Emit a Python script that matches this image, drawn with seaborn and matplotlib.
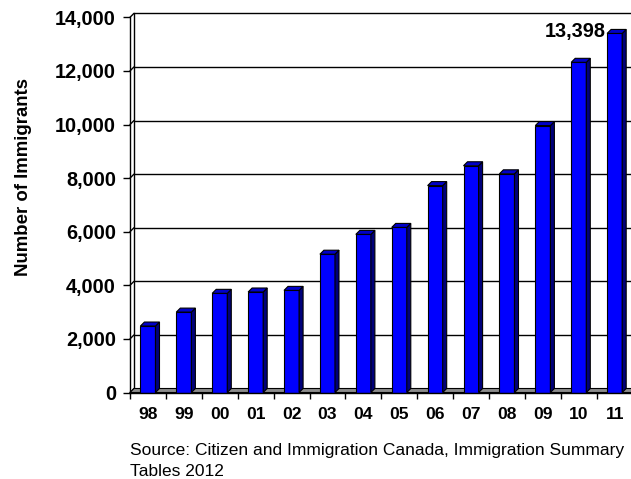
import numpy as np
import pandas as pd
import matplotlib
matplotlib.use("Agg")
import matplotlib.pyplot as plt
import seaborn as sns
from matplotlib.patches import Polygon
from matplotlib.lines import Line2D

# Immigrants per year
years = ["98", "99", "00", "01", "02", "03", "04", "05", "06", "07", "08", "09", "10", "11"]
immigrants = [2480, 3000, 3700, 3750, 3810, 5160, 5900, 6160, 7720, 8460, 8160, 9960, 12320, 13398]
y_ticks = [0, 2000, 4000, 6000, 8000, 10000, 12000, 14000]
y_tick_labels = ["0", "2,000", "4,000", "6,000", "8,000", "10,000", "12,000", "14,000"]
y_title = "Number of Immigrants"
source_lines = ["Source: Citizen and Immigration Canada, Immigration Summary", "Tables 2012"]

sns.set_theme(style="white")
plt.rcParams["font.family"] = ["Liberation Sans", "DejaVu Sans"]

W, H = 631, 479
fig = plt.figure(figsize=(W / 100, H / 100), dpi=100)
fig.patch.set_facecolor("white")
ax = fig.add_axes([130 / W, (H - 392.5) / H, 502.6 / W, 375.2 / H])
ax.set_facecolor("none")

df = pd.DataFrame({"year": years, "immigrants": immigrants})
sns.barplot(data=df, x="year", y="immigrants", color="#0000FF", saturation=1,
            width=0.42, edgecolor="black", linewidth=0.8, ax=ax, zorder=4)

n = len(years)
ax.set_xlim(-0.5, n - 0.5)
ax.set_ylim(0, y_ticks[-1])

# depth of the pseudo-3D effect: 4 px right and 4 px up, in data units
p0 = ax.transData.transform((0, 0))
p1 = ax.transData.transform((1, 1000))
dx = 4.0 / (p1[0] - p0[0])
dy = 4.0 * 1000 / (p1[1] - p0[1])

x_left, x_right = -0.5, n - 0.5

# back wall gridlines and wall edge
for t in y_ticks:
    ax.add_line(Line2D([x_left + dx, x_right + dx], [t + dy, t + dy], color="black",
                       lw=1.0, zorder=1, clip_on=False))
    ax.add_line(Line2D([x_left, x_left + dx], [t, t + dy], color="black",
                       lw=1.0, zorder=1, clip_on=False))
ax.add_line(Line2D([x_left + dx, x_left + dx], [dy, y_ticks[-1] + dy], color="black",
                   lw=1.0, zorder=1, clip_on=False))

# floor
ax.add_patch(Polygon([(x_left, 0), (x_right, 0), (x_right + dx, dy), (x_left + dx, dy)],
                     closed=True, facecolor="#8c8c8c", edgecolor="black", lw=0.8,
                     zorder=2, clip_on=False))

# side and top faces of every bar
for p in list(ax.patches):
    if not hasattr(p, "get_height") or p.get_height() <= 0:
        continue
    x0, w, h = p.get_x(), p.get_width(), p.get_height()
    x1 = x0 + w
    ax.add_patch(Polygon([(x1, 0), (x1 + dx, dy), (x1 + dx, h + dy), (x1, h)], closed=True,
                         facecolor="#00007A", edgecolor="black", lw=0.8, zorder=4))
    ax.add_patch(Polygon([(x0, h), (x1, h), (x1 + dx, h + dy), (x0 + dx, h + dy)], closed=True,
                         facecolor="#0000C8", edgecolor="black", lw=0.8, zorder=4))

# value label on the last bar
last = [p for p in ax.patches if hasattr(p, "get_x")][n - 1]
ax.annotate(f"{immigrants[-1]:,}", xy=(last.get_x(), immigrants[-1]),
            xytext=(-1.2, -2.4), textcoords="offset points", ha="right", va="baseline",
            fontsize=14.3, fontweight="bold", color="black", zorder=6)

# spines
for s in ["top", "right"]:
    ax.spines[s].set_visible(False)
for s in ["left", "bottom"]:
    ax.spines[s].set_visible(True)
    ax.spines[s].set_color("black")
    ax.spines[s].set_linewidth(1.0)
    ax.spines[s].set_zorder(5)

ax.set_yticks(y_ticks)
ax.set_yticklabels(y_tick_labels, fontsize=14.3, fontweight="bold", color="black")
ax.tick_params(axis="y", left=True, length=5, width=1, color="black", direction="out", pad=5)

ax.set_xticks(np.arange(n))
ax.set_xticklabels(years, fontsize=12.6, fontweight="bold", color="black")
ax.set_xticks(np.arange(n + 1) - 0.5, minor=True)
ax.tick_params(axis="x", which="major", bottom=True, length=0, pad=10.5)
ax.tick_params(axis="x", which="minor", bottom=True, length=4, width=1, color="black",
               direction="out")
ax.set_xlabel("")
ax.set_ylabel("")
ax.grid(False)

fig.text(24 / W, 1 - 177 / H, y_title, rotation=90, ha="center", va="center",
         fontsize=13.4, fontweight="bold", color="black")

fig.text(130 / W, 1 - 455 / H, source_lines[0], ha="left", va="baseline",
         fontsize=12.5, color="black")
fig.text(130 / W, 1 - 476.5 / H, source_lines[1], ha="left", va="baseline",
         fontsize=12.5, color="black")

fig.savefig("out.png", dpi=100, facecolor="white")
